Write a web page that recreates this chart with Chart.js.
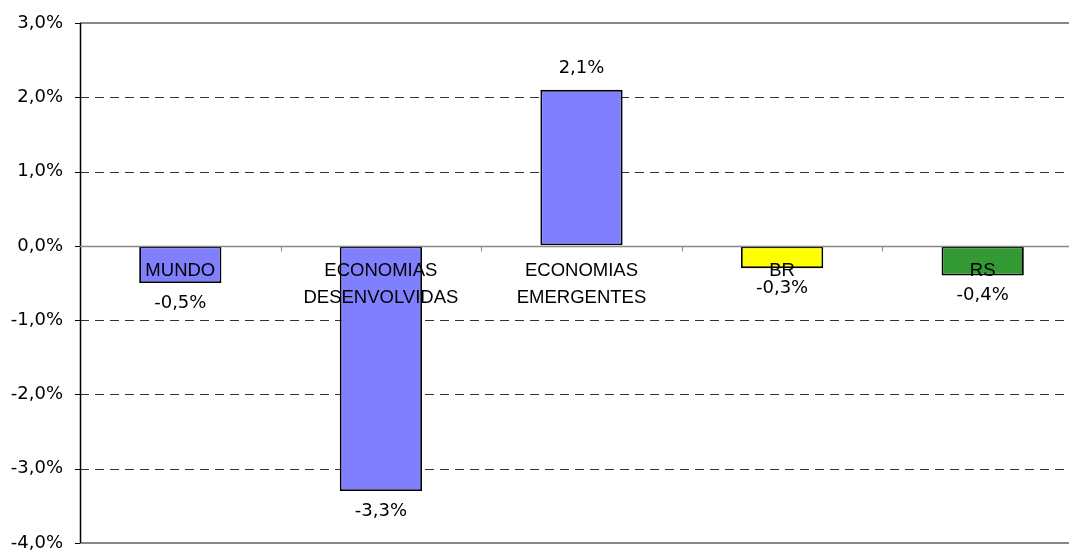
<!DOCTYPE html>
<html>
<head>
<meta charset="utf-8">
<script src="https://cdn.jsdelivr.net/npm/chart.js@4"></script>
<style>
  html, body { margin: 0; padding: 0; background: #fff; overflow: hidden; }
  #wrap { width: 1069px; height: 550px; overflow: hidden; }
</style>
</head>
<body>
<div id="wrap"><canvas id="chart" width="1092" height="550"></canvas></div>
<script>
/* ---------- DATA ---------- */
const categories = [['MUNDO'], ['ECONOMIAS', 'DESENVOLVIDAS'], ['ECONOMIAS', 'EMERGENTES'], ['BR'], ['RS']];
const values = [-0.5, -3.3, 2.1, -0.3, -0.4];
const barColors = ['#8080FF', '#8080FF', '#8080FF', '#FFFF00', '#339933'];
const yTicks = [-4, -3, -2, -1, 0, 1, 2, 3];

const NUM_FONT = '"DejaVu Sans", sans-serif';
const CAT_FONT = '"Liberation Sans", Arial, sans-serif';
const fmt = v => v.toFixed(1).replace('.', ',') + '%';

/* ---------- PLUGIN: grid, axis, labels ---------- */
const decor = {
  id: 'decor',
  beforeDatasetsDraw(chart) {
    const { ctx, chartArea: a, scales: { y } } = chart;
    const first = yTicks[0], last = yTicks[yTicks.length - 1];
    ctx.save();
    ctx.lineWidth = 1;
    // dashed gridlines
    ctx.strokeStyle = '#333';
    ctx.setLineDash([9, 6]);
    yTicks.forEach(t => {
      if (t === 0 || t === first || t === last) return;
      const py = Math.round(y.getPixelForValue(t)) + 0.5;
      ctx.beginPath(); ctx.moveTo(a.left, py); ctx.lineTo(a.right, py); ctx.stroke();
    });
    ctx.setLineDash([]);
    // top and bottom border lines
    ctx.strokeStyle = '#888';
    ctx.lineWidth = 2;
    [first, last].forEach(t => {
      const py = Math.round(y.getPixelForValue(t));
      ctx.beginPath(); ctx.moveTo(a.left, py); ctx.lineTo(a.right, py); ctx.stroke();
    });
    // y tick marks + axis line
    ctx.strokeStyle = '#000';
    ctx.lineWidth = 1;
    yTicks.forEach(t => {
      const py = Math.round(y.getPixelForValue(t)) + 0.5;
      ctx.beginPath(); ctx.moveTo(a.left - 5, py); ctx.lineTo(a.left, py); ctx.stroke();
    });
    ctx.lineWidth = 1.5;
    ctx.beginPath(); ctx.moveTo(a.left + 0.5, a.top); ctx.lineTo(a.left + 0.5, a.bottom); ctx.stroke();
    ctx.restore();
  },
  afterDatasetsDraw(chart) {
    const { ctx, chartArea: a, scales: { x, y } } = chart;
    const zero = Math.round(y.getPixelForValue(0)) + 0.5;
    ctx.save();
    // zero line with category separators
    ctx.strokeStyle = '#888';
    ctx.lineWidth = 1.5;
    ctx.beginPath(); ctx.moveTo(a.left, zero); ctx.lineTo(a.right, zero); ctx.stroke();
    ctx.lineWidth = 1;
    const step = (a.right - a.left) / categories.length;
    for (let i = 1; i < categories.length; i++) {
      const px = Math.round(a.left + step * i) + 0.5;
      ctx.beginPath(); ctx.moveTo(px, zero); ctx.lineTo(px, zero + 5); ctx.stroke();
    }
    // category labels just below the zero line
    ctx.fillStyle = '#000';
    ctx.font = '18.5px ' + CAT_FONT;
    ctx.textAlign = 'center';
    ctx.textBaseline = 'middle';
    categories.forEach((lines, i) => {
      const px = x.getPixelForValue(i);
      lines.forEach((s, j) => ctx.fillText(s, px, zero + 24 + j * 27));
    });
    // value labels
    ctx.font = '18px ' + NUM_FONT;
    const meta = chart.getDatasetMeta(0);
    meta.data.forEach((bar, i) => {
      const v = values[i];
      const py = y.getPixelForValue(v) + (v < 0 ? 20 : -22);
      ctx.fillText(fmt(v), bar.x, py);
    });
    ctx.restore();
  }
};

/* ---------- CHART ---------- */
new Chart(document.getElementById('chart'), {
  type: 'bar',
  data: {
    labels: categories,
    datasets: [{
      data: values,
      backgroundColor: barColors,
      borderColor: '#000',
      borderWidth: 1.8,
      borderSkipped: false,
      barPercentage: 0.41,
      categoryPercentage: 1
    }]
  },
  options: {
    responsive: false,
    animation: false,
    layout: { padding: { top: 23, right: 9, bottom: 7, left: 0 } },
    plugins: { legend: { display: false }, tooltip: { enabled: false } },
    scales: {
      x: { display: false },
      y: {
        min: -4, max: 3,
        afterFit(scale) { scale.width = 80; scale.paddingTop = 0; scale.paddingBottom = 0; },
        afterBuildTicks(scale) { scale.ticks = yTicks.map(v => ({ value: v })); },
        grid: { display: true, color: 'transparent', drawTicks: true, tickLength: 8 },
        border: { display: false },
        ticks: {
          padding: 9,
          color: '#000',
          font: { family: NUM_FONT, size: 18 },
          callback: v => fmt(v)
        }
      }
    }
  },
  plugins: [decor]
});
</script>
</body>
</html>
